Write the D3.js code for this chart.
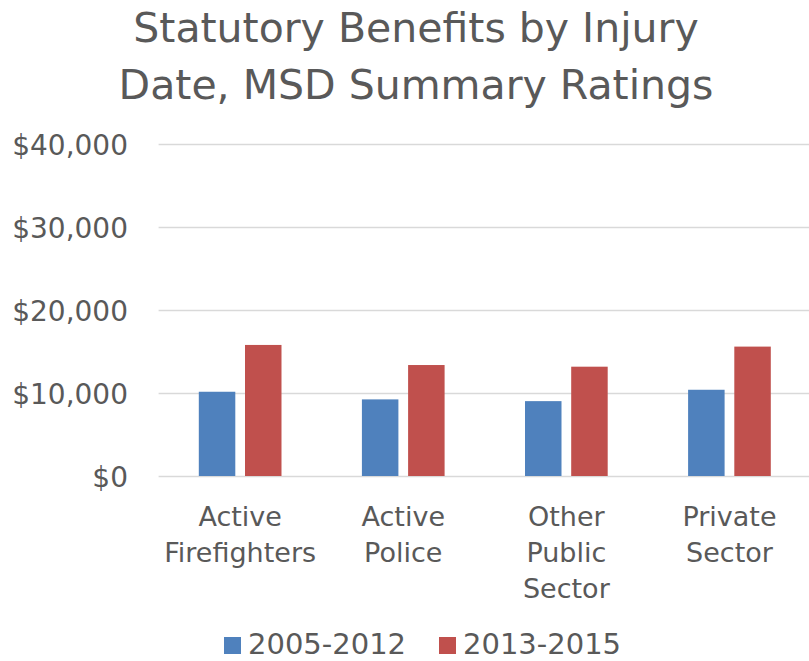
<!DOCTYPE html>
<html>
<head>
<meta charset="utf-8">
<script src="https://cdn.jsdelivr.net/npm/d3@7"></script>
<style>
  html, body { margin: 0; padding: 0; background: #fff; }
  svg { display: block; }
  text { font-family: "DejaVu Sans", sans-serif; fill: #595959; }
</style>
</head>
<body>
<svg id="chart" width="809" height="661"></svg>
<script>
const titleLines = ["Statutory Benefits by Injury", "Date, MSD Summary Ratings"];
const categories = [
  ["Active", "Firefighters"],
  ["Active", "Police"],
  ["Other", "Public", "Sector"],
  ["Private", "Sector"]
];
const seriesNames = ["2005-2012", "2013-2015"];
const values2005_2012 = [10150, 9230, 9020, 10390];
const values2013_2015 = [15790, 13370, 13170, 15590];
const yTicks = [0, 10000, 20000, 30000, 40000];
const colors = ["#4F81BD", "#C0504D"];

const svg = d3.select("#chart");
const catKeys = categories.map((c, i) => i);
const seriesValues = [values2005_2012, values2013_2015];

const x0 = d3.scaleBand().domain(catKeys).range([158.6, 811]).paddingInner(0.493).paddingOuter(0.2465);
const x1 = d3.scaleBand().domain(d3.range(seriesNames.length)).range([0, x0.bandwidth()]).paddingInner(0.21).paddingOuter(0);
const y = d3.scaleLinear().domain([0, 40000]).range([476, 144]);

// Title
svg.append("g").selectAll("text").data(titleLines).join("text")
  .attr("x", 416).attr("y", (d, i) => 42 + i * 57)
  .attr("text-anchor", "middle")
  .style("font-size", "41px")
  .text(d => d);

// gridlines
svg.append("g").selectAll("line").data(yTicks).join("line")
  .attr("x1", 158.6).attr("x2", 809)
  .attr("y1", d => Math.round(y(d)) + 0.5).attr("y2", d => Math.round(y(d)) + 0.5)
  .attr("stroke", "#D9D9D9").attr("stroke-width", 1.5);

// y axis labels
const yAxis = d3.axisLeft(y).tickValues(yTicks).tickSize(0).tickPadding(0)
  .tickFormat(d => "$" + d3.format(",")(d));
const gy = svg.append("g").attr("transform", "translate(128,2)").call(yAxis);
gy.select(".domain").remove();
gy.selectAll("text").style("font-size", "28px").attr("fill", "#595959").style("font-family", "DejaVu Sans");

// bars
const groups = svg.append("g").selectAll("g").data(catKeys).join("g")
  .attr("transform", d => `translate(${x0(d)},0)`);
groups.selectAll("rect").data(d => seriesValues.map((s, j) => ({ j, v: s[d] }))).join("rect")
  .attr("x", d => x1(d.j))
  .attr("width", x1.bandwidth())
  .attr("y", d => y(d.v))
  .attr("height", d => y(0) - y(d.v))
  .attr("fill", d => colors[d.j]);

// category labels
const xl = svg.append("g").selectAll("text").data(catKeys).join("text")
  .attr("text-anchor", "middle")
  .style("font-size", "27px")
  .attr("transform", d => `translate(${x0(d) + x0.bandwidth() / 2},0)`);
xl.selectAll("tspan").data(d => categories[d]).join("tspan")
  .attr("x", 0).attr("y", (d, i) => 526 + i * 36)
  .text(d => d);

// legend
const legendX = [224, 439];
const lg = svg.append("g").selectAll("g").data(seriesNames).join("g")
  .attr("transform", (d, i) => `translate(${legendX[i]},0)`);
lg.append("rect").attr("x", 0).attr("y", 637).attr("width", 17).attr("height", 17)
  .attr("fill", (d, i) => colors[i]);
lg.append("text").attr("x", 24).attr("y", 654).style("font-size", "29px").text(d => d);
</script>
</body>
</html>
